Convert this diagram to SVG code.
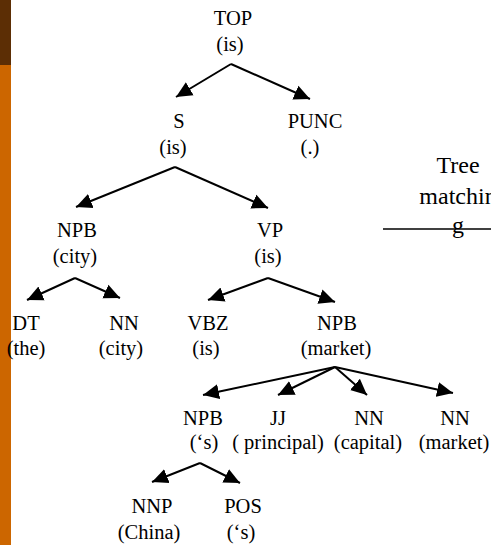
<svg xmlns="http://www.w3.org/2000/svg" width="491" height="545" viewBox="0 0 491 545">
  <defs>
    <marker id="arrow" markerUnits="userSpaceOnUse" markerWidth="18" markerHeight="18" viewBox="0 -9 18 18" refX="16" refY="0" orient="auto">
      <path d="M0,-7.5 L16,0 L0,7.5 z" fill="#000"/>
    </marker>
    <style>
      text { font-family: "Liberation Serif", "Times New Roman", serif; font-size: 20.5px; fill: #000; text-anchor: middle; }
      .edge { stroke: #000; stroke-width: 2; fill: none; marker-end: url(#arrow); }
      .note { font-size: 24px; }
    </style>
  </defs>

  <rect width="491" height="545" fill="#fff"/>

  <!-- side bar -->
  <rect x="0" y="0" width="11" height="65" fill="#5C2E05"/>
  <rect x="0" y="65" width="11" height="480" fill="#CC6600"/>

  <!-- tree edges -->
  <g id="connectors">
    <line class="edge" x1="231" y1="64" x2="176" y2="97"/>
    <line class="edge" x1="231" y1="64" x2="310" y2="99"/>
    <line class="edge" x1="175" y1="167" x2="76" y2="207"/>
    <line class="edge" x1="175" y1="167" x2="268" y2="208"/>
    <line class="edge" x1="75" y1="278" x2="27" y2="300"/>
    <line class="edge" x1="75" y1="278" x2="120" y2="298"/>
    <line class="edge" x1="268" y1="278" x2="208" y2="300"/>
    <line class="edge" x1="268" y1="278" x2="335" y2="302"/>
    <line class="edge" x1="335" y1="367" x2="203" y2="395"/>
    <line class="edge" x1="335" y1="367" x2="278" y2="395"/>
    <line class="edge" x1="335" y1="367" x2="367" y2="395"/>
    <line class="edge" x1="335" y1="367" x2="453" y2="393"/>
    <line class="edge" x1="200" y1="463" x2="152" y2="482"/>
    <line class="edge" x1="200" y1="463" x2="240" y2="483"/>
  </g>

  <!-- tree nodes -->
  <g id="top"><text x="233" y="25">TOP</text><text x="230" y="51">(is)</text></g>
  <g id="s"><text x="179" y="128">S</text><text x="173" y="154">(is)</text></g>
  <g id="punc"><text x="315" y="128">PUNC</text><text x="310" y="154">(.)</text></g>
  <g id="npb-city"><text x="77" y="237">NPB</text><text x="75" y="263">(city)</text></g>
  <g id="vp"><text x="270" y="237">VP</text><text x="268" y="263">(is)</text></g>
  <g id="dt"><text x="26" y="330">DT</text><text x="26" y="355">(the)</text></g>
  <g id="nn-city"><text x="124" y="330">NN</text><text x="121" y="355">(city)</text></g>
  <g id="vbz"><text x="208" y="330">VBZ</text><text x="206" y="355">(is)</text></g>
  <g id="npb-market"><text x="337" y="330">NPB</text><text x="336" y="355">(market)</text></g>
  <g id="npb-s"><text x="203" y="425">NPB</text><text x="204" y="449">(‘s)</text></g>
  <g id="jj"><text x="278" y="425">JJ</text><text x="278" y="449">( principal)</text></g>
  <g id="nn-capital"><text x="369" y="425">NN</text><text x="368" y="449">(capital)</text></g>
  <g id="nn-market"><text x="455" y="425">NN</text><text x="454" y="449">(market)</text></g>
  <g id="nnp"><text x="152" y="513">NNP</text><text x="149" y="539">(China)</text></g>
  <g id="pos"><text x="243" y="513">POS</text><text x="241" y="539">(‘s)</text></g>

  <!-- side label -->
  <g id="tree-matching">
    <text class="note" x="458" y="173">Tree</text>
    <text class="note" x="458" y="204">matchin</text>
    <text class="note" x="458" y="233">g</text>
    <line x1="383" y1="229" x2="491" y2="229" stroke="#000" stroke-width="1.5"/>
  </g>
</svg>
